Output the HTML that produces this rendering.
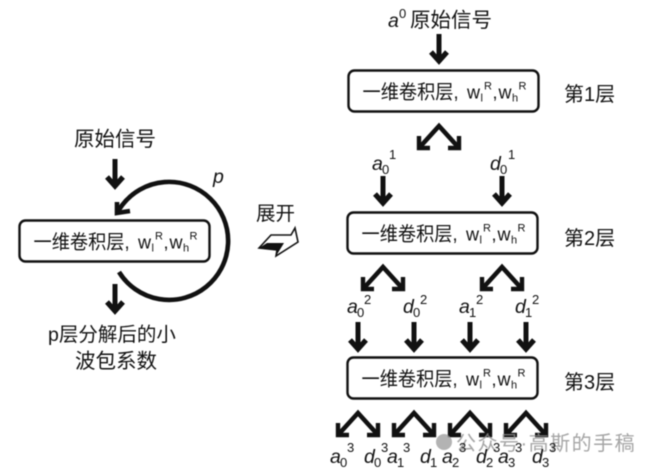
<!DOCTYPE html>
<html><head><meta charset="utf-8">
<style>
html,body{margin:0;padding:0;background:#fff}
svg{display:block;filter:blur(.4px)}
text{font-family:"Liberation Sans","Noto Sans CJK SC",sans-serif;fill:#111}
.c{font-size:19.5px}
.h{font-size:20.5px}
.l{font-size:20px}
.i{font-style:italic;font-size:19.5px}
.s{font-size:11px}
.n{font-size:13px}
.b{font-size:18px}
.w{font-size:20px;letter-spacing:1.5px;fill:#8f8f8f;opacity:.8}
</style></head><body>
<svg width="653" height="472" viewBox="0 0 653 472" xmlns="http://www.w3.org/2000/svg">
<defs>
<g id="down" fill="none" stroke="#111" stroke-width="5"><path d="M0 0V26"/><path d="M-8 18L0 27L8 18" stroke-width="5.2"/></g>
<g id="car" fill="none" stroke="#111" stroke-width="4.6"><path d="M-20 24L0 2L20 24"/><path d="M-20 12V24H-9M20 12V24H9" stroke-width="4.4"/></g>
<g id="box">
<rect x="0" y="0" width="190" height="41" rx="6" fill="#fff" stroke="#111" stroke-width="2.4"/>
<text x="14" y="28" class="c" textLength="96" lengthAdjust="spacingAndGlyphs">一维卷积层,</text>
<text x="118.5" y="28" class="b">w</text><text x="132" y="31" class="s">l</text>
<text x="135.5" y="19" class="s">R</text><text x="144" y="28" class="b">,</text><text x="150" y="28" class="b">w</text>
<text x="163.5" y="31" class="s">h</text><text x="170" y="19" class="s">R</text>
</g>
</defs>

<!-- left -->
<text x="74" y="146" class="h">原始信号</text>
<use href="#down" x="115" y="159"/>
<text x="213" y="183" class="i">p</text>
<path d="M118 211L122 205.4A59 59 0 1 1 119 272" fill="none" stroke="#111" stroke-width="4.6"/>
<path d="M117 202L117 213L130 211" fill="none" stroke="#111" stroke-width="4.6"/>
<use href="#box" x="19.5" y="220.5"/>
<use href="#down" x="115" y="284"/>
<text x="48" y="341" class="c">p层分解后的小</text>
<text x="75" y="368" class="h">波包系数</text>

<text x="256" y="220" class="c">展开</text>
<path d="M259 248L271 235H291L295 228L298 242L276 256L277 250Z" fill="#fff" stroke="#111" stroke-width="1.6"/>
<path d="M259 248L267 243H284L276 256L277 250Z" fill="#111"/>

<!-- right top -->
<text x="388" y="27" class="i">a</text><text x="399" y="18" class="n">0</text>
<text x="410" y="27" class="h">原始信号</text>
<use href="#down" x="439" y="34"/>
<use href="#box" x="348.5" y="70.5"/>
<text x="564" y="101" class="l">第1层</text>
<use href="#car" x="439" y="124"/>

<text x="372" y="170" class="i">a</text><text x="382" y="174" class="n">0</text><text x="389" y="159" class="n">1</text>
<text x="490" y="170" class="i">d</text><text x="500" y="174" class="n">0</text><text x="508" y="159" class="n">1</text>
<use href="#down" x="383" y="176"/>
<use href="#down" x="502" y="176"/>
<use href="#box" x="347.5" y="212.5"/>
<text x="564" y="245" class="l">第2层</text>

<use href="#car" x="383" y="265"/>
<use href="#car" x="502" y="265"/>

<text x="347" y="313" class="i">a</text><text x="357" y="317" class="n">0</text><text x="364" y="304" class="n">2</text>
<text x="403" y="313" class="i">d</text><text x="413" y="317" class="n">0</text><text x="420" y="304" class="n">2</text>
<text x="459" y="313" class="i">a</text><text x="469" y="317" class="n">1</text><text x="476" y="304" class="n">2</text>
<text x="515" y="313" class="i">d</text><text x="525" y="317" class="n">1</text><text x="532" y="304" class="n">2</text>
<use href="#down" x="358" y="322"/>
<use href="#down" x="414" y="322"/>
<use href="#down" x="470" y="322"/>
<use href="#down" x="526" y="322"/>
<use href="#box" x="347.5" y="357.5"/>
<text x="564" y="389" class="l">第3层</text>

<use href="#car" x="358" y="411"/>
<use href="#car" x="414" y="411"/>
<use href="#car" x="470" y="411"/>
<use href="#car" x="526" y="411"/>

<circle cx="444" cy="442" r="8" fill="#999" opacity=".75"/>
<text x="456" y="450" class="w">公众号·高斯的手稿</text>

<text x="330" y="463" class="i">a</text><text x="340" y="467" class="n">0</text><text x="347" y="452" class="n">3</text>
<text x="364" y="463" class="i">d</text><text x="374" y="467" class="n">0</text><text x="381" y="452" class="n">3</text>
<text x="387" y="463" class="i">a</text><text x="397" y="467" class="n">1</text><text x="403" y="452" class="n">3</text>
<text x="420" y="463" class="i">d</text><text x="430" y="467" class="n">1</text>
<text x="442" y="463" class="i">a</text><text x="452" y="467" class="n">2</text><text x="459" y="452" class="n">3</text>
<text x="476" y="463" class="i">d</text><text x="486" y="467" class="n">2</text><text x="493" y="452" class="n">3</text>
<text x="498" y="463" class="i">a</text><text x="508" y="467" class="n">3</text><text x="515" y="452" class="n">3</text>
<text x="532" y="463" class="i">d</text><text x="542" y="467" class="n">3</text><text x="549" y="452" class="n">3</text>
</svg>
</body></html>
